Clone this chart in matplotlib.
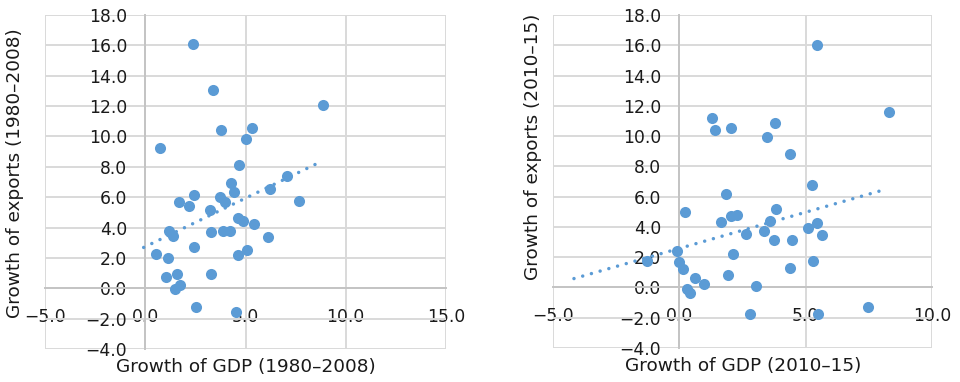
import numpy as np
import matplotlib
matplotlib.use("Agg")
import matplotlib.pyplot as plt

plt.rcParams['font.family'] = ['DejaVu Sans']

# painel esquerdo: 1980-2008
gdp_8008 = [2.36, 3.36, 8.89, 3.79, 5.32, 5.02, 0.75, 4.70, 7.06, 4.29,
            4.45, 6.23, 2.43, 3.74, 3.99, 1.69, 2.18, 7.69, 3.24, 4.65,
            4.87, 5.43, 1.18, 1.40, 3.29, 3.87, 4.25, 6.10, 2.43, 0.53,
            1.11, 4.62, 5.05, 1.01, 1.59, 3.26, 1.71, 1.46, 2.51, 4.52]
exp_8008 = [16.06, 13.08, 12.09, 10.40, 10.55, 9.85, 9.23, 8.11, 7.38, 6.92,
            6.37, 6.54, 6.17, 6.04, 5.66, 5.70, 5.44, 5.73, 5.18, 4.60,
            4.45, 4.21, 3.79, 3.46, 3.70, 3.74, 3.74, 3.41, 2.75, 2.29,
            2.00, 2.20, 2.53, 0.75, 0.93, 0.97, 0.24, -0.04, -1.23, -1.54]
# linha de tendência: inclinação, intercepto, faixa em x
trend_8008 = (0.639, 2.74)
trend_x_8008 = [-0.08, 8.84]

# painel direito: 2010-15
gdp_1015 = [5.46, 8.28, 1.30, 1.43, 2.06, 3.77, 3.45, 4.37, 5.25, 1.84,
            0.21, 3.84, 2.05, 2.28, 1.64, 3.57, 5.45, 5.11, 3.35, 5.63,
            2.62, 3.73, 4.44, -0.09, 2.12, -1.28, 0.00, 0.16, 5.29, 4.37,
            1.93, 0.62, 0.99, 3.03, 0.29, 0.42, 7.46, 2.78, 5.49]
exp_1015 = [16.02, 11.59, 11.17, 10.38, 10.55, 10.86, 9.96, 8.81, 6.76, 6.15,
            5.00, 5.20, 4.74, 4.80, 4.32, 4.36, 4.27, 3.92, 3.75, 3.46,
            3.50, 3.15, 3.11, 2.42, 2.20, 1.78, 1.70, 1.21, 1.78, 1.26,
            0.82, 0.62, 0.22, 0.07, -0.11, -0.35, -1.28, -1.78, -1.76]
trend_1015 = (0.478, 2.58)
trend_x_1015 = [-4.17, 8.23]

yticks = np.arange(-4, 18.1, 2)
azul = '#5B9BD5'
texto = '#1a1a1a'


def rotulo(v):
    return f'{v:.1f}'.replace('-', '\u2212')


def painel(ax, x, y, trend, tx, xticks, xlim):
    ax.set_xlim(xlim)
    ax.set_ylim(-4, 18)
    ax.set_xticks(xticks)
    ax.set_yticks(yticks)
    ax.set_xticklabels([rotulo(v) for v in xticks])
    ax.set_yticklabels([rotulo(v) for v in yticks])
    ax.grid(True, color='#d9d9d9', lw=1.4, zorder=0)
    ax.set_axisbelow(True)
    for s in ['top', 'right']:
        ax.spines[s].set_visible(False)
    for s in ['left', 'bottom']:
        ax.spines[s].set_position(('data', 0))
        ax.spines[s].set_color('#c4c4c4')
        ax.spines[s].set_linewidth(1.4)
    ax.tick_params(length=0, labelsize=12.3, colors=texto)
    ax.tick_params(axis='y', pad=13)
    ax.tick_params(axis='x', pad=14)

    ax.scatter(x, y, s=64, color=azul, zorder=3, linewidths=0)

    a, b = trend
    tx = np.array(tx)
    ax.plot(tx, a * tx + b, color=azul, lw=2.5, dashes=(0.01, 2.6),
            dash_capstyle='round', zorder=4)


fig = plt.figure(figsize=(9.6, 3.82), dpi=100)
ax1 = fig.add_axes([45 / 960, 1 - 349 / 382, 401 / 960, 334 / 382])
ax2 = fig.add_axes([553 / 960, 1 - 348 / 382, 379 / 960, 333 / 382])

painel(ax1, gdp_8008, exp_8008, trend_8008, trend_x_8008, np.arange(-5, 15.1, 5), (-5, 15))
painel(ax2, gdp_1015, exp_1015, trend_1015, trend_x_1015, np.arange(-5, 10.1, 5), (-5, 10))

fig.text(246 / 960, 1 - 367 / 382, 'Growth of GDP (1980\u20132008)', ha='center',
         va='center', fontsize=13.3, color=texto)
fig.text(15 / 960, 1 - 173 / 382, 'Growth of exports (1980\u20132008)', ha='center',
         va='center', rotation=90, fontsize=13.3, color=texto)
fig.text(743 / 960, 1 - 366 / 382, 'Growth of GDP (2010\u201315)', ha='center',
         va='center', fontsize=13.3, color=texto)
fig.text(533 / 960, 1 - 147 / 382, 'Growth of exports (2010\u201315)', ha='center',
         va='center', rotation=90, fontsize=13.3, color=texto)

fig.savefig('out.png', dpi=100)
